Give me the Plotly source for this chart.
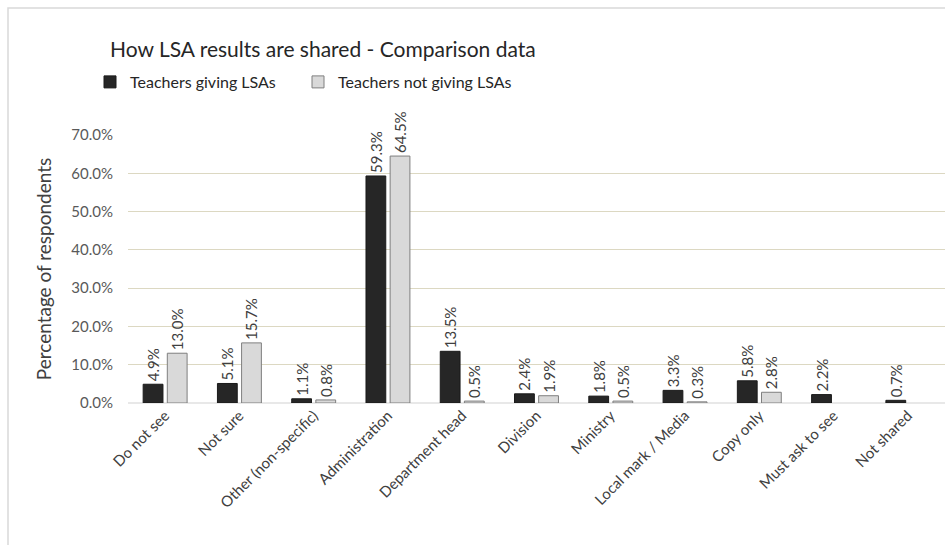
import plotly.graph_objects as go

categories = ["Do not see", "Not sure", "Other (non-specific)", "Administration",
              "Department head", "Division", "Ministry", "Local mark / Media",
              "Copy only", "Must ask to see", "Not shared"]
giving = [4.9, 5.1, 1.1, 59.3, 13.5, 2.4, 1.8, 3.3, 5.8, 2.2, 0.7]
not_giving = [13.0, 15.7, 0.8, 64.5, 0.5, 1.9, 0.5, 0.3, 2.8, None, None]
y_ticks = [0, 10, 20, 30, 40, 50, 60, 70]

W, H = 945, 545
ML, MR, MT, MB = 128, 0, 135, 142
pw, ph = W - ML - MR, H - MT - MB

def px_x(p):
    return (p - ML) / pw

def px_y(p):
    return (H - MB - p) / ph

FONT = "Lato"
txt_font = dict(family=FONT, size=15, color="#404040")

fig = go.Figure()
fig.add_trace(go.Bar(
    x=categories, y=giving, name="Teachers giving LSAs",
    marker=dict(color="#262626", line=dict(color="#1a1a1a", width=1)),
    texttemplate="%{y:.1f}%", textposition="outside", textangle=-90,
    constraintext="none", legend="legend",
    textfont=txt_font, cliponaxis=False,
))
fig.add_trace(go.Bar(
    x=categories, y=not_giving, name="Teachers not giving LSAs",
    marker=dict(color="#d9d9d9", line=dict(color="#7f7f7f", width=1)),
    texttemplate="%{y:.1f}%", textposition="outside", textangle=-90,
    constraintext="none", legend="legend2",
    textfont=txt_font, cliponaxis=False,
))

leg_common = dict(orientation="h", xanchor="left", y=px_y(82), yanchor="middle",
                  font=dict(family=FONT, size=16, color="#262626"),
                  itemwidth=30, bgcolor="rgba(0,0,0,0)")

fig.update_layout(
    width=W, height=H,
    margin=dict(l=ML, r=MR, t=MT, b=MB),
    paper_bgcolor="white", plot_bgcolor="white",
    font=dict(family=FONT, size=15, color="#404040"),
    barmode="group", bargap=0.35, bargroupgap=0.18,
    title=dict(text="How LSA results are shared - Comparison data",
               x=110 / W, xanchor="left",
               y=1 - 50 / H, yanchor="middle",
               font=dict(family=FONT, size=21, color="#262626")),
    legend=dict(x=px_x(90), **leg_common),
    legend2=dict(x=px_x(298), **leg_common),
    showlegend=True,
)
fig.update_xaxes(tickangle=-45, showgrid=False, showline=False, ticks="",
                 tickfont=dict(family=FONT, size=15, color="#404040"))
fig.update_yaxes(range=[0, 70], tickvals=y_ticks,
                 ticktext=[f"{v:.1f}%" for v in y_ticks],
                 showgrid=True, gridcolor="#dcd8c2", gridwidth=1,
                 zeroline=True, zerolinecolor="#e8e8e8", zerolinewidth=2,
                 ticks="", ticklabelstandoff=14,
                 tickfont=dict(family=FONT, size=15, color="#595959"),
                 title=dict(text="Percentage of respondents",
                            font=dict(family=FONT, size=19, color="#404040"),
                            standoff=14))

# outer chart frame
fig.add_shape(type="rect", xref="paper", yref="paper",
              x0=px_x(8), x1=px_x(W + 5), y0=px_y(H + 5), y1=px_y(8),
              line=dict(color="#d9d9d9", width=1.5), fillcolor="rgba(0,0,0,0)",
              layer="below")

fig.write_html("out.html")
